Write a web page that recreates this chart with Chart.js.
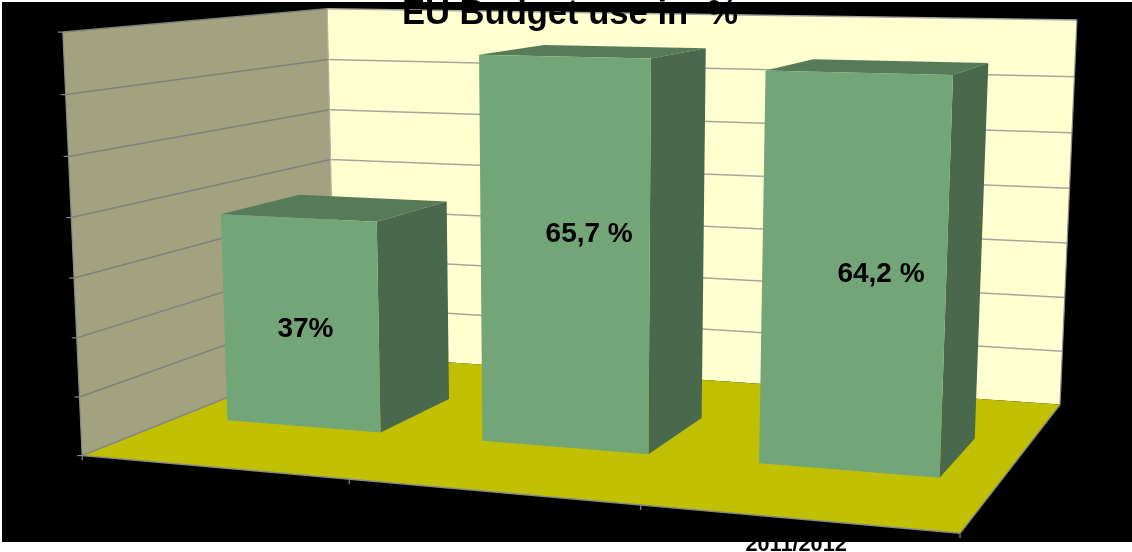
<!DOCTYPE html>
<html>
<head>
<meta charset="utf-8">
<script src="https://cdn.jsdelivr.net/npm/chart.js@4"></script>
<style>
html,body{margin:0;padding:0;background:#fff;overflow:hidden}
canvas{display:block}
</style>
</head>
<body>
<canvas id="c" width="1132" height="552"></canvas>
<script>
// --- data ---
const categories = ["", "", "2011/2012"];
const budgetUse = [37, 65.7, 64.2];
const valueLabels = ["37%", "65,7 %", "64,2 %"];
const titleText = "EU Budget use in  %";
const axisMax = 70;
const axisStep = 10;

// --- style / layout ---
const FONT = '"Liberation Sans", Arial, sans-serif';
const colors = {
  page: "#000000", back: "#FFFFCF", side: "#A2A180", floor: "#C0C000",
  front: "#72A578", top: "#577B59", right: "#4A684C",
  gridBack: "#A5A5A0", gridSide: "#80807A", edge: "#8A8A8A"
};
// plot box corners on screen: [u (along), v (height), w (depth), x, y]
const boxCorners = [
  [0,0,0,  82,456], [1,0,0, 960,533], [0,0,1, 335,354], [1,0,1, 1060,405],
  [0,1,1, 327,  9], [1,1,1,1077, 20], [0,1,0,  63, 32]
];
const barDepth = [0.34, 0.655];
const labelOffsets = [[5, 6], [25, -21], [28, -1]];

// solve the projective map of the plot box from its corners
function solve(A, b) {
  const n = b.length, M = A.map((r, i) => [...r, b[i]]);
  for (let i = 0; i < n; i++) {
    let p = i;
    for (let k = i + 1; k < n; k++) if (Math.abs(M[k][i]) > Math.abs(M[p][i])) p = k;
    [M[i], M[p]] = [M[p], M[i]];
    for (let k = 0; k < n; k++) {
      if (k === i) continue;
      const f = M[k][i] / M[i][i];
      for (let j = i; j <= n; j++) M[k][j] -= f * M[i][j];
    }
  }
  return M.map((r, i) => r[n] / r[i]);
}
function fitProjection(pts) {
  const rows = [], rhs = [];
  for (const [u, v, w, px, py] of pts) {
    const x = px / 1000, y = py / 1000;
    rows.push([u, v, w, 1, 0, 0, 0, 0, -x * u, -x * v, -x * w]); rhs.push(x);
    rows.push([0, 0, 0, 0, u, v, w, 1, -y * u, -y * v, -y * w]); rhs.push(y);
  }
  const n = 11, ATA = [], ATb = [];
  for (let i = 0; i < n; i++) {
    ATA.push(new Array(n).fill(0)); ATb.push(0);
    rows.forEach((r, k) => {
      for (let j = 0; j < n; j++) ATA[i][j] += r[i] * r[j];
      ATb[i] += r[i] * rhs[k];
    });
  }
  return solve(ATA, ATb);
}
const P = fitProjection(boxCorners);
function project(u, v, w) {
  const d = P[8] * u + P[9] * v + P[10] * w + 1;
  return [1000 * (P[0] * u + P[1] * v + P[2] * w + P[3]) / d,
          1000 * (P[4] * u + P[5] * v + P[6] * w + P[7]) / d];
}
function poly(ctx, pts, fill, stroke, lw) {
  ctx.beginPath();
  pts.forEach((p, i) => i ? ctx.lineTo(p[0], p[1]) : ctx.moveTo(p[0], p[1]));
  ctx.closePath();
  if (fill) { ctx.fillStyle = fill; ctx.fill(); }
  if (stroke) { ctx.strokeStyle = stroke; ctx.lineWidth = lw || 1; ctx.stroke(); }
}
function line(ctx, a, b, color, lw) {
  ctx.beginPath(); ctx.moveTo(a[0], a[1]); ctx.lineTo(b[0], b[1]);
  ctx.strokeStyle = color; ctx.lineWidth = lw; ctx.stroke();
}
const normU = (c, px) => (px - c.chartArea.left) / (c.chartArea.right - c.chartArea.left);
const normV = (c, py) => (c.chartArea.bottom - py) / (c.chartArea.bottom - c.chartArea.top);

const box3d = {
  id: "box3d",
  beforeDraw(chart) {
    const ctx = chart.ctx, X = chart.scales.x, Y = chart.scales.y;
    ctx.save();
    ctx.fillStyle = "#fff"; ctx.fillRect(0, 0, chart.width, chart.height);
    ctx.fillStyle = colors.page; ctx.fillRect(2, 2, chart.width - 2, 540);
    // walls + floor
    poly(ctx, [project(0,0,1), project(1,0,1), project(1,1,1), project(0,1,1)], colors.back);
    poly(ctx, [project(0,0,0), project(0,0,1), project(0,1,1), project(0,1,0)], colors.side);
    poly(ctx, [project(0,0,0), project(1,0,0), project(1,0,1), project(0,0,1)], colors.floor);
    // value gridlines and ticks from the y scale
    Y.ticks.forEach(t => {
      const v = normV(chart, Y.getPixelForValue(t.value));
      if (v > 0) line(ctx, project(0,v,1), project(1,v,1), colors.gridBack, 1.5);
      line(ctx, project(0,v,0), project(0,v,1), colors.gridSide, 1.5);
      const a = project(0,v,0);
      line(ctx, a, [a[0] - 5, a[1]], colors.edge, 1.2);
    });
    // frame edges
    line(ctx, project(0,0,0), project(0,1,0), colors.edge, 1.2);
    line(ctx, project(0,0,1), project(0,1,1), "#B5B5A0", 1.2);
    line(ctx, project(1,0,1), project(1,1,1), colors.edge, 1.2);
    line(ctx, project(0,0,0), project(1,0,0), colors.edge, 1.5);
    line(ctx, project(1,0,0), project(1,0,1), colors.edge, 1.5);
    line(ctx, project(0,0,0), project(0,0,1), colors.edge, 1);
    // category ticks
    for (let i = 0; i <= categories.length; i++) {
      const a = project(i / categories.length, 0, 0);
      line(ctx, a, [a[0], a[1] + 5], colors.edge, 1.2);
    }
    ctx.restore();
  },
  beforeDatasetDraw(chart, args) {
    const ctx = chart.ctx, meta = args.meta;
    ctx.save();
    meta.data.forEach(bar => {
      const u0 = normU(chart, bar.x - bar.width / 2), u1 = normU(chart, bar.x + bar.width / 2);
      const v0 = normV(chart, bar.base), v1 = normV(chart, bar.y);
      const [w0, w1] = barDepth;
      poly(ctx, [project(u0,v1,w0), project(u1,v1,w0), project(u1,v1,w1), project(u0,v1,w1)], colors.top);
      poly(ctx, [project(u1,v0,w0), project(u1,v0,w1), project(u1,v1,w1), project(u1,v1,w0)], colors.right);
      poly(ctx, [project(u0,v0,w0), project(u1,v0,w0), project(u1,v1,w0), project(u0,v1,w0)], colors.front);
    });
    ctx.restore();
    return false;
  },
  afterDatasetsDraw(chart) {
    const ctx = chart.ctx, meta = chart.getDatasetMeta(0), X = chart.scales.x;
    ctx.save();
    ctx.fillStyle = "#000";
    ctx.textAlign = "center";
    ctx.textBaseline = "middle";
    ctx.font = "bold 28px " + FONT;
    meta.data.forEach((bar, i) => {
      const u = normU(chart, bar.x), v = normV(chart, (bar.y + bar.base) / 2);
      const p = project(u, v, barDepth[0]);
      ctx.fillText(valueLabels[i], p[0] + labelOffsets[i][0], p[1] + labelOffsets[i][1]);
    });
    ctx.font = "bold 21.7px " + FONT;
    ctx.textBaseline = "alphabetic";
    categories.forEach((c, i) => {
      const p = project(normU(chart, X.getPixelForValue(i)), 0, 0);
      ctx.fillText(X.getLabelForValue(i), p[0] - 0.5, p[1] + 32);
    });
    ctx.restore();
  }
};

new Chart(document.getElementById("c"), {
  type: "bar",
  data: {
    labels: categories,
    datasets: [{ data: budgetUse, backgroundColor: colors.front, barPercentage: 0.61, categoryPercentage: 1 }]
  },
  plugins: [box3d],
  options: {
    responsive: false,
    animation: false,
    devicePixelRatio: 1,
    layout: { padding: { left: 8 } },
    plugins: {
      legend: { display: false },
      tooltip: { enabled: false },
      title: {
        display: true, text: titleText, color: "#000",
        font: { family: FONT, size: 34.6, weight: "bold" },
        padding: { top: -6, bottom: 0 }
      }
    },
    scales: {
      x: { display: false },
      y: { display: false, min: 0, max: axisMax, ticks: { stepSize: axisStep } }
    }
  }
});
</script>
</body>
</html>
